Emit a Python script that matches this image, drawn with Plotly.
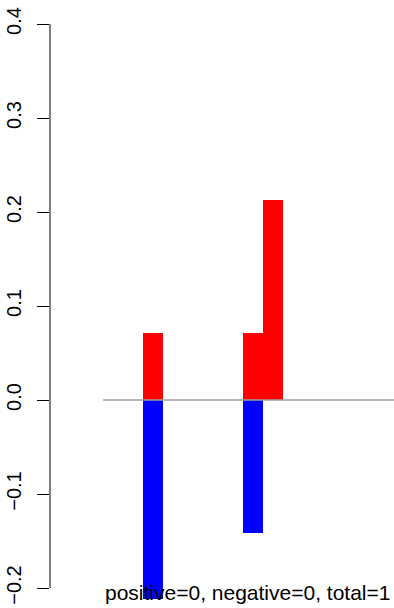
import plotly.graph_objects as go

# Data
positions = [1.0, 2.0, 2.2]
positive_vals = [0.0713, 0.0713, 0.2128]
negative_vals = [-0.2117, -0.1415, 0.0]
bar_width = 0.2
baseline_x = [0.5, 3.6]
baseline_y = [0.0, 0.0]
tick_vals = [-0.2, -0.1, 0.0, 0.1, 0.2, 0.3, 0.4]
tick_text = ["\u22120.2", "\u22120.1", "0.0", "0.1", "0.2", "0.3", "0.4"]
caption = "positive=0, negative=0, total=1"

FONT = "Liberation Sans, Arial, Helvetica, sans-serif"

fig = go.Figure()
fig.add_trace(go.Scatter(x=baseline_x, y=baseline_y, mode="lines",
                         line=dict(color="#a0a0a0", width=1.5),
                         hoverinfo="skip", showlegend=False))
fig.add_trace(go.Bar(x=positions, y=positive_vals, width=bar_width, base=0,
                     marker=dict(color="#ff0000", line=dict(width=0)),
                     showlegend=False))
fig.add_trace(go.Bar(x=positions, y=negative_vals, width=bar_width, base=0,
                     marker=dict(color="#0000ff", line=dict(width=0)),
                     showlegend=False))

# R-style y axis line spanning only the tick range
fig.add_shape(type="line", xref="paper", yref="y", x0=0, x1=0,
              y0=min(tick_vals), y1=max(tick_vals),
              line=dict(color="black", width=1))

fig.add_annotation(text=caption, xref="x", yref="paper", x=1.94, y=0,
                   yanchor="bottom", showarrow=False, yshift=2,
                   font=dict(family=FONT, size=21, color="black"))

fig.update_layout(
    width=394, height=608,
    margin=dict(l=50, r=0, t=0, b=0),
    paper_bgcolor="white", plot_bgcolor="white",
    barmode="overlay",
    bargap=0,
    font=dict(family=FONT, size=20, color="black"),
    xaxis=dict(range=[-0.03, 3.41], visible=False, showgrid=False, zeroline=False),
    yaxis=dict(range=[-0.22128, 0.42553], tickvals=tick_vals, ticktext=tick_text,
               tickangle=-90, ticks="outside", ticklen=12, tickcolor="black",
               tickwidth=1, showline=False, showgrid=False, zeroline=False,
               ticklabelstandoff=8, tickfont=dict(family=FONT, size=20, color="black")),
)

fig.write_html("out.html", config={"displayModeBar": False},
               post_script="document.body.style.margin='0';document.body.style.overflow='hidden';")
